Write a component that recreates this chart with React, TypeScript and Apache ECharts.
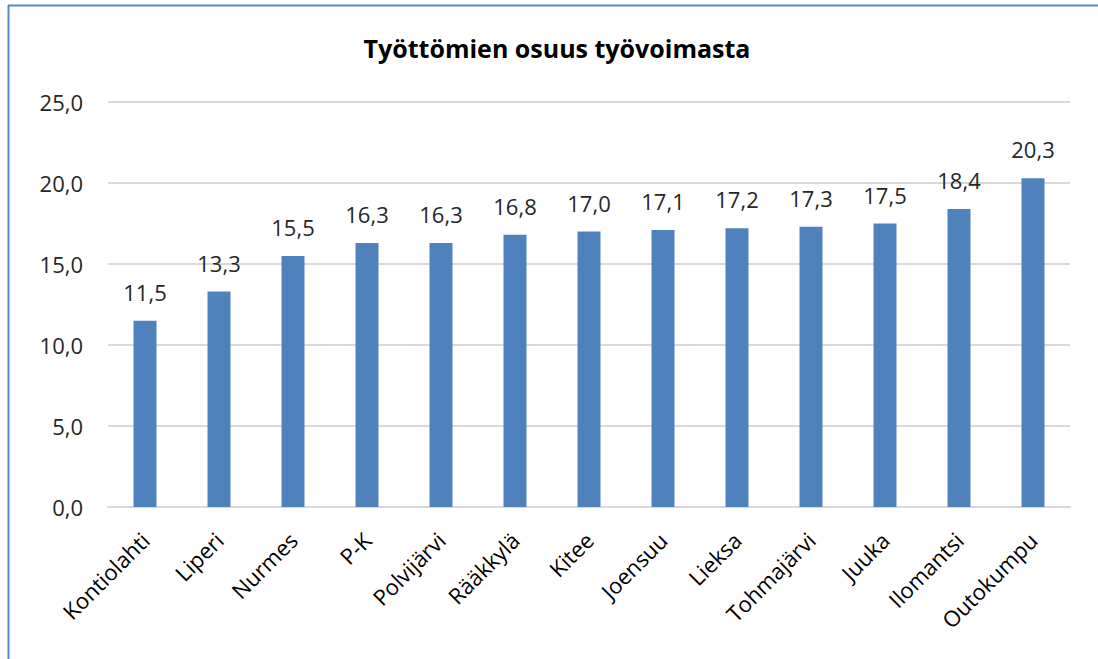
import React, { useEffect, useRef } from "react";
import * as echarts from "echarts";

const title = "Työttömien osuus työvoimasta";
const categories = [
  "Kontiolahti",
  "Liperi",
  "Nurmes",
  "P-K",
  "Polvijärvi",
  "Rääkkylä",
  "Kitee",
  "Joensuu",
  "Lieksa",
  "Tohmajärvi",
  "Juuka",
  "Ilomantsi",
  "Outokumpu",
];
const values = [11.5, 13.3, 15.5, 16.3, 16.3, 16.8, 17.0, 17.1, 17.2, 17.3, 17.5, 18.4, 20.3];
const yMin = 0;
const yMax = 25;
const yInterval = 5;

const fmt = (v: number) => v.toFixed(1).replace(".", ",");
const FONT = "'Open Sans', 'Noto Sans', sans-serif";

export default function App() {
  const ref = useRef<HTMLDivElement>(null);
  useEffect(() => {
    if (!ref.current) return;
    const chart = echarts.init(ref.current, undefined, { renderer: "svg" });
    chart.setOption({
      animation: false,
      backgroundColor: "#ffffff",
      title: {
        text: title,
        left: 552,
        top: 30,
        textAlign: "center",
        textStyle: { fontFamily: FONT, fontSize: 25, fontWeight: "bold", color: "#000000" },
      },
      graphic: [
        { type: "line", shape: { x1: 8.5, y1: 5, x2: 8.5, y2: 659 }, style: { stroke: "#5B87C8", lineWidth: 2 } },
        { type: "line", shape: { x1: 8, y1: 5.5, x2: 1098, y2: 5.5 }, style: { stroke: "#5B87C8", lineWidth: 2 } },
      ],
      grid: { left: 108, right: 28, top: 102, bottom: 152, containLabel: false },
      xAxis: {
        type: "category",
        data: categories,
        axisLine: { show: true, lineStyle: { color: "#D9D9D9", width: 2 } },
        axisTick: { show: false },
        axisLabel: {
          rotate: 45,
          interval: 0,
          margin: 29,
          fontFamily: FONT,
          fontSize: 22,
          color: "#000000",
        },
      },
      yAxis: {
        type: "value",
        min: yMin,
        max: yMax,
        interval: yInterval,
        axisLine: { show: false },
        axisTick: { show: false },
        splitLine: { lineStyle: { color: "#D9D9D9", width: 2 } },
        axisLabel: {
          formatter: (v: number) => fmt(v),
          margin: 25,
          fontFamily: FONT,
          fontSize: 22,
          color: "#262626",
        },
      },
      series: [
        {
          type: "bar",
          data: values,
          barWidth: 23,
          itemStyle: { color: "#4F81BD" },
          label: {
            show: true,
            position: "top",
            distance: 18,
            formatter: (p: any) => fmt(p.value),
            fontFamily: FONT,
            fontSize: 22,
            color: "#262626",
          },
        },
      ],
    });
    return () => chart.dispose();
  }, []);
  return (
    <div
      ref={ref}
      style={{ position: "fixed", left: 0, top: 0, width: 1098, height: 659 }}
    />
  );
}
